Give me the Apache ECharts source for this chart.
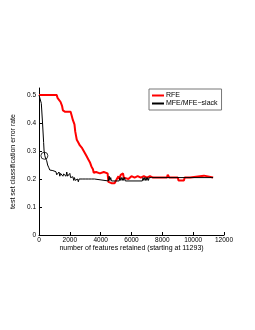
<!DOCTYPE html>
<html><head><meta charset="utf-8">
<script src="https://cdn.jsdelivr.net/npm/echarts@6/dist/echarts.min.js"></script>
<style>html,body{margin:0;padding:0;background:#fff}#c{width:255px;height:330px}</style>
</head><body><div id="c"></div>
<script>
// RFE curve: [features retained, error rate]
var rfeX = [0,1150,1200,1300,1400,1500,1550,1700,1800,1900,2050,2100,2200,2300,2350,2400,2450,2550,2650,2800,2900,3000,3050,3100,3200,3300,3400,3500,3550,3700,3750,3800,3950,4000,4050,4200,4250,4300,4450,4500,4700,4750,4900,5000,5050,5150,5200,5300,5450,5500,5600,5800,5900,6000,6200,6400,6600,6800,7000,7200,7400,7500,8300,8350,8450,9000,9050,9400,9450,9800,9850,10700,10750,11293];
var rfeY = [0.5,0.5,0.49,0.49,0.475,0.46,0.445,0.44,0.445,0.44,0.44,0.43,0.41,0.395,0.37,0.355,0.34,0.33,0.32,0.31,0.30,0.29,0.295,0.28,0.27,0.26,0.245,0.235,0.222,0.225,0.22,0.225,0.22,0.225,0.22,0.225,0.22,0.222,0.22,0.19,0.185,0.19,0.185,0.19,0.2,0.21,0.2,0.215,0.22,0.205,0.21,0.2,0.205,0.21,0.205,0.21,0.205,0.21,0.205,0.21,0.205,0.205,0.205,0.215,0.205,0.205,0.195,0.195,0.205,0.205,0.212,0.212,0.205,0.205];
// MFE/MFE-slack curve
var mfeX = [0,100,150,230,300,330,380,420,500,560,640,700,800,900,1000,1100,1150,1200,1250,1300,1350,1400,1450,1500,1550,1600,1650,1700,1750,1800,1850,1900,1950,2000,2050,2100,2150,2200,2250,2300,2350,2400,2450,2500,2550,2600,2700,2800,2900,3000,3100,3200,3300,3400,3500,3600,3700,4500,4550,4600,4650,4700,5200,5250,5300,5350,5400,5450,5500,5550,5600,6700,6750,6800,6850,6900,6950,7000,7050,7100,7150,7200,7300,11293];
var mfeY = [0.5,0.5,0.47,0.40,0.33,0.30,0.283,0.275,0.265,0.25,0.24,0.232,0.235,0.23,0.232,0.226,0.215,0.222,0.212,0.225,0.21,0.22,0.215,0.222,0.21,0.218,0.212,0.22,0.21,0.225,0.21,0.215,0.205,0.22,0.205,0.21,0.2,0.208,0.195,0.205,0.195,0.2,0.19,0.2,0.19,0.2,0.193,0.2,0.193,0.2,0.193,0.2,0.193,0.2,0.193,0.2,0.193,0.193,0.21,0.195,0.205,0.193,0.193,0.205,0.195,0.205,0.195,0.205,0.195,0.205,0.193,0.193,0.205,0.195,0.205,0.195,0.205,0.195,0.205,0.195,0.205,0.205,0.205,0.205];
// highlighted point (circle)
var markX = [350];
var markY = [0.283];
var seriesNames = ['RFE', 'MFE/MFE\u2212slack'];
var yTicks = [0, 0.1, 0.2, 0.3, 0.4, 0.5];
var xTicks = [0, 2000, 4000, 6000, 8000, 10000, 12000];

function zip(a, b) { return a.map(function (v, i) { return [v, b[i]]; }); }

var font = 'Liberation Sans, Arial, sans-serif';
var chart = echarts.init(document.getElementById('c'), null, {renderer: 'canvas'});
chart.setOption({
  animation: false,
  backgroundColor: '#fff',
  grid: {left: 39, right: 31, top: 88, bottom: 95, containLabel: false},
  legend: {
    left: 149, top: 89, orient: 'vertical', itemGap: 1,
    padding: [3, 4, 3, 3],
    borderColor: '#777', borderWidth: 1, backgroundColor: '#fff',
    itemWidth: 12, itemHeight: 2, icon: 'rect',
    textStyle: {fontFamily: font, fontSize: 7, color: '#000', padding: [0, 0, 0, -3]},
    data: [{name: seriesNames[0]}, {name: seriesNames[1]}]
  },
  xAxis: {
    type: 'value', min: xTicks[0], max: xTicks[xTicks.length - 1], interval: 2000,
    name: 'number of features retained (starting at 11293)',
    nameLocation: 'middle', nameGap: 10,
    nameTextStyle: {fontFamily: font, fontSize: 7, color: '#000'},
    axisLine: {lineStyle: {color: '#000', width: 1}},
    axisTick: {inside: true, length: 3, lineStyle: {color: '#000'}},
    axisLabel: {fontFamily: font, fontSize: 6.5, color: '#000', margin: 2,
      formatter: function (v) { return String(v); }},
    splitLine: {show: false}
  },
  yAxis: {
    type: 'value', min: 0, max: 0.525, interval: 0.1,
    name: 'test set classification error rate',
    nameLocation: 'middle', nameGap: 17, nameRotate: 90,
    nameTextStyle: {fontFamily: font, fontSize: 7, color: '#000'},
    axisLine: {show: true, lineStyle: {color: '#000', width: 1}},
    axisTick: {show: true, inside: true, length: 3, lineStyle: {color: '#000'},
      customValues: yTicks},
    axisLabel: {fontFamily: font, fontSize: 6.5, color: '#000', margin: 3,
      customValues: yTicks,
      formatter: function (v) { return String(Math.round(v * 10) / 10); }},
    splitLine: {show: false}
  },
  series: [
    {name: seriesNames[0], type: 'line', data: zip(rfeX, rfeY), showSymbol: false, symbol: 'none',
      lineStyle: {color: '#ff0000', width: 2}, itemStyle: {color: '#ff0000'}, z: 2},
    {name: seriesNames[1], type: 'line', data: zip(mfeX, mfeY), showSymbol: false, symbol: 'none',
      lineStyle: {color: '#000', width: 1}, itemStyle: {color: '#000'}, z: 3},
    {name: 'pick', type: 'scatter', data: zip(markX, markY), symbol: 'circle', symbolSize: 7,
      itemStyle: {color: 'rgba(0,0,0,0)', borderColor: '#000', borderWidth: 1}, z: 4}
  ]
});
</script></body></html>
